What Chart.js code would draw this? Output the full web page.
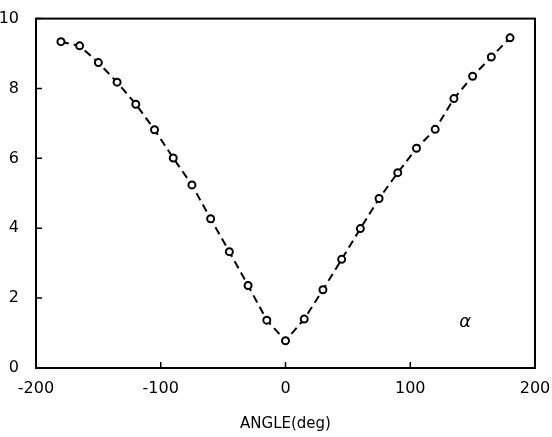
<!DOCTYPE html>
<html>
<head>
<meta charset="utf-8">
<script src="https://cdn.jsdelivr.net/npm/chart.js@4"></script>
<style>
  html, body { margin: 0; padding: 0; background: #fff; }
  #wrap { width: 552px; height: 437px; }
</style>
</head>
<body>
<div id="wrap"><canvas id="c"></canvas></div>
<script>
const angles = [-180, -165, -150, -135, -120, -105, -90, -75, -60, -45, -30, -15, 0,
                15, 30, 45, 60, 75, 90, 105, 120, 135, 150, 165, 180];
const values = [9.34, 9.22, 8.74, 8.18, 7.55, 6.82, 6.01, 5.24, 4.27, 3.33, 2.36, 1.37, 0.78,
                1.40, 2.24, 3.11, 3.99, 4.85, 5.59, 6.29, 6.83, 7.71, 8.35, 8.90, 9.45];
const xTicks = [-200, -100, 0, 100, 200];
const yTicks = [0, 2, 4, 6, 8, 10];
const panelLabel = { x: 144, y: 1.3, text: 'α' };

const font = "'DejaVu Sans', sans-serif";

// frame, inward ticks and panel letter
const framePlugin = {
  id: 'frame',
  afterDatasetsDraw(chart) {
    const { ctx, chartArea: a, scales: { x, y } } = chart;
    ctx.save();
    ctx.strokeStyle = '#000';
    ctx.lineWidth = 2;
    ctx.strokeRect(a.left, a.top, a.right - a.left, a.bottom - a.top);
    ctx.lineWidth = 1.5;
    ctx.beginPath();
    yTicks.forEach(v => {
      const py = y.getPixelForValue(v);
      ctx.moveTo(a.left, py); ctx.lineTo(a.left + 6, py);
    });
    xTicks.forEach(v => {
      const px = x.getPixelForValue(v);
      ctx.moveTo(px, a.bottom); ctx.lineTo(px, a.bottom - 6);
    });
    ctx.stroke();
    ctx.fillStyle = '#000';
    ctx.font = 'italic 18px ' + font;
    ctx.textAlign = 'center';
    ctx.textBaseline = 'middle';
    ctx.fillText(panelLabel.text, x.getPixelForValue(panelLabel.x), y.getPixelForValue(panelLabel.y));
    ctx.restore();
  }
};

new Chart(document.getElementById('c'), {
  type: 'line',
  data: {
    datasets: [{
      data: angles.map((a, i) => ({ x: a, y: values[i] })),
      borderColor: '#000',
      borderWidth: 2,
      borderDash: [8, 5],
      tension: 0,
      fill: false,
      pointRadius: 3.5,
      pointBorderWidth: 2,
      pointBackgroundColor: '#fff',
      pointBorderColor: '#000'
    }]
  },
  options: {
    responsive: true,
    maintainAspectRatio: false,
    animation: false,
    layout: { padding: { top: 17, right: 0, left: 0, bottom: 0 } },
    plugins: { legend: { display: false }, tooltip: { enabled: false } },
    scales: {
      x: {
        type: 'linear',
        min: -200, max: 200,
        afterBuildTicks: s => { s.ticks = xTicks.map(v => ({ value: v })); },
        afterFit: s => { s.height = 69; s.paddingRight = 17; },
        grid: { display: false },
        border: { display: false },
        ticks: {
          color: '#000',
          font: { family: font, size: 16 },
          padding: 3,
          maxRotation: 0,
          callback: v => v < 0 ? '-' + Math.abs(v) : String(v)
        },
        title: {
          display: true,
          text: 'ANGLE(deg)',
          color: '#000',
          font: { family: font, size: 15 },
          padding: { top: 0, bottom: 4 }
        }
      },
      y: {
        min: 0, max: 10,
        afterBuildTicks: s => { s.ticks = yTicks.map(v => ({ value: v })); },
        afterFit: s => { s.width = 36; },
        grid: { display: false },
        border: { display: false },
        ticks: {
          color: '#000',
          font: { family: font, size: 16 },
          padding: 9
        }
      }
    }
  },
  plugins: [framePlugin]
});
</script>
</body>
</html>
